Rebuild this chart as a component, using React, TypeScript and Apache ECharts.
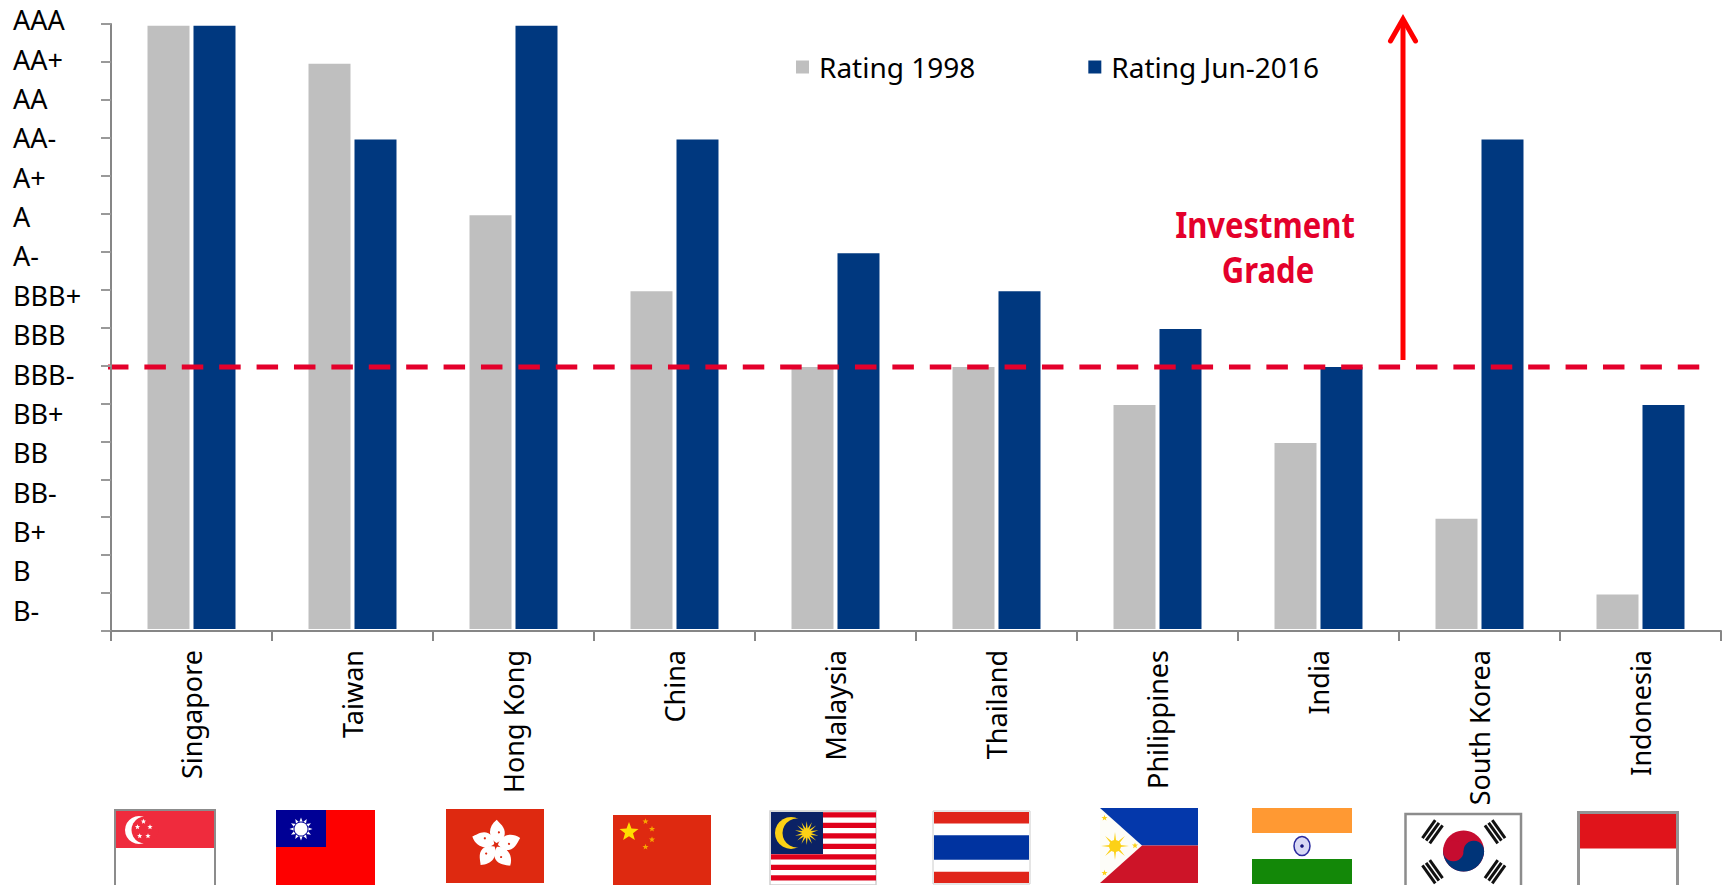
import React, { useEffect, useRef } from "react";
import * as echarts from "echarts";

const countries = ["Singapore", "Taiwan", "Hong Kong", "China", "Malaysia", "Thailand", "Philippines", "India", "South Korea", "Indonesia"];
const ratingLabels = ["AAA", "AA+", "AA", "AA-", "A+", "A", "A-", "BBB+", "BBB", "BBB-", "BB+", "BB", "BB-", "B+", "B", "B-"];
const rating1998 = [16, 15, 11, 9, 7, 7, 6, 5, 3, 1];
const rating2016 = [16, 13, 16, 13, 10, 9, 8, 7, 13, 6];
const investmentGradeLevel = [7, 7];
const investmentGradeSpan = [-0.025, 9.865];

const FONT = "'Noto Sans', sans-serif";
const GREY = "#bfbfbf";
const NAVY = "#00387f";
const LINE_RED = "#e4002b";

echarts.graphic.registerShape(
  "hkPetal",
  echarts.graphic.extendPath("M0,-2 C-9,-6 -11,-17 -3,-25 C0,-22 7,-19 7,-12 C7,-7 3,-4 0,-2 Z", {})
);

type El = Record<string, any>;
const rect = (x: number, y: number, width: number, height: number, fill: string, stroke?: string, lineWidth = 0): El => ({
  type: "rect", shape: { x, y, width, height }, style: { fill, stroke, lineWidth }, silent: true,
});
const circle = (cx: number, cy: number, r: number, fill: string): El => ({
  type: "circle", shape: { cx, cy, r }, style: { fill }, silent: true,
});
const burst = (cx: number, cy: number, n: number, outer: number, inner: number, fill: string): El => {
  const points: number[][] = [];
  for (let i = 0; i < n * 2; i++) {
    const a = -Math.PI / 2 + (i * Math.PI) / n;
    const r = i % 2 ? inner : outer;
    points.push([cx + r * Math.cos(a), cy + r * Math.sin(a)]);
  }
  return { type: "polygon", shape: { points }, style: { fill }, silent: true };
};
const star = (cx: number, cy: number, r: number, fill: string) => burst(cx, cy, 5, r, r * 0.42, fill);

function singapore(): El[] {
  return [
    rect(115, 810, 100, 80, "#ffffff", "#8c8c8c", 2),
    rect(116, 811, 98, 37, "#ef2b3d"),
    circle(139, 830, 14, "#ffffff"),
    circle(145, 830, 13.5, "#ef2b3d"),
    star(143.5, 821.5, 2.8, "#fff"), star(137.5, 827, 2.8, "#fff"), star(150, 827, 2.8, "#fff"),
    star(139.7, 836, 2.8, "#fff"), star(148, 836, 2.8, "#fff"),
  ];
}
function taiwan(): El[] {
  return [
    rect(276, 810, 99, 75, "#fe0000"),
    rect(276, 810, 50, 37, "#000095"),
    burst(301, 829, 12, 11.5, 7, "#ffffff"),
    circle(301, 829, 7.5, "#000095"),
    circle(301, 829, 6.5, "#ffffff"),
  ];
}
function hongKong(): El[] {
  const petals: El[] = [];
  for (let i = 0; i < 5; i++) {
    petals.push({
      type: "group", x: 496, y: 845, rotation: (-i * 2 * Math.PI) / 5 - 0.15,
      children: [
        { type: "hkPetal", style: { fill: "#ffffff" }, silent: true },
        { type: "circle", shape: { cx: 1, cy: -13, r: 1.1 }, style: { fill: "#de2910" }, silent: true },
      ],
    });
  }
  return [rect(446, 809, 98, 74, "#de2910"), ...petals];
}
function china(): El[] {
  return [
    rect(613, 815, 98, 70, "#de2910"),
    star(629, 832, 10, "#ffde00"),
    star(645.5, 821.5, 3.2, "#f7a800"), star(652, 829, 3.2, "#f7a800"),
    star(652, 839.6, 3.2, "#f7a800"), star(645.5, 847, 3.2, "#f7a800"),
  ];
}
function malaysia(): El[] {
  const stripes: El[] = [];
  for (let i = 0; i < 7; i++) stripes.push(rect(771, 812.3 + i * 10.5, 105, 5.2, "#e0001b"));
  return [
    rect(770, 811, 106, 74, "#ffffff", "#cfcfcf", 1.5),
    ...stripes,
    rect(771, 812, 52, 42, "#0b2265"),
    circle(791, 833, 16, "#fcd116"),
    circle(797, 833, 14.5, "#0b2265"),
    burst(806.7, 833, 14, 12, 4.5, "#fcd116"),
  ];
}
function thailand(): El[] {
  return [
    rect(933, 811, 97, 73, "#ffffff", "#cccccc", 1),
    rect(934, 812, 95, 11.6, "#e0251a"),
    rect(934, 835.3, 95, 24.4, "#0033a0"),
    rect(934, 871.7, 95, 11.3, "#e0251a"),
  ];
}
function philippines(): El[] {
  return [
    rect(1100, 808, 98, 37.5, "#0438ab"),
    rect(1100, 845.5, 98, 37.5, "#cd1428"),
    { type: "polygon", shape: { points: [[1100, 808], [1142, 845.5], [1100, 883]] }, style: { fill: "#fdfdf8" }, silent: true },
    burst(1115, 846, 8, 14, 3.5, "#fcd116"),
    circle(1115, 846, 6, "#fcd116"),
    star(1104.5, 818, 3.2, "#fcd116"), star(1104.5, 873, 3.2, "#fcd116"), star(1135, 845.6, 3.2, "#fcd116"),
  ];
}
function india(): El[] {
  return [
    rect(1252, 808, 100, 25, "#ff9933"),
    rect(1252, 833, 100, 26, "#ffffff"),
    rect(1252, 859, 100, 25, "#138808"),
    { type: "ellipse", shape: { cx: 1302, cy: 846, rx: 8, ry: 9.5 }, style: { fill: "#d8d8f4", stroke: "#2a2a9e", lineWidth: 1.5 }, silent: true },
    circle(1302, 846, 1.8, "#14147a"),
  ];
}
function korea(): El[] {
  const cx = 1463.6, cy = 851;
  const trigram = (x: number, y: number, rotation: number): El => ({
    type: "group", x, y, rotation,
    children: [-6, -1.5, 3].map((b) => ({
      type: "rect", shape: { x: -11, y: b, width: 22, height: 3 }, style: { fill: "#111111" }, silent: true,
    })),
  });
  return [
    rect(1405.5, 814, 115.5, 80, "#ffffff", "#8c8c8c", 2.5),
    circle(cx, cy, 20.5, "#c60c30"),
    { type: "sector", shape: { cx, cy, r: 20.5, r0: 0, startAngle: 0, endAngle: Math.PI }, style: { fill: "#003478" }, silent: true },
    circle(cx - 10.2, cy, 10.3, "#c60c30"),
    circle(cx + 10.2, cy, 10.3, "#003478"),
    trigram(1432.5, 831.7, 0.95),
    trigram(1495, 831.7, -0.95),
    trigram(1432.5, 871.7, -0.95),
    trigram(1495, 871.7, 0.95),
  ];
}
function indonesia(): El[] {
  return [
    rect(1578.5, 812.5, 99, 80, "#ffffff", "#949494", 3),
    rect(1580, 814, 96, 34.5, "#e0141b"),
  ];
}

function annotations(): El[] {
  return [
    { type: "text", x: 1265, y: 224, scaleY: 1.14, style: { text: "Investment", fill: LINE_RED, font: `700 31px ${FONT}`, align: "center", verticalAlign: "middle" } },
    { type: "text", x: 1268, y: 269, scaleY: 1.14, style: { text: "Grade", fill: LINE_RED, font: `700 31px ${FONT}`, align: "center", verticalAlign: "middle" } },
    { type: "line", shape: { x1: 1403, y1: 360, x2: 1403, y2: 24 }, style: { stroke: "#ff0000", lineWidth: 5 }, silent: true },
    { type: "polyline", shape: { points: [[1390.5, 41], [1403, 19], [1415.5, 41]] }, style: { stroke: "#ff0000", lineWidth: 5, fill: "none", lineCap: "round", lineJoin: "miter" }, silent: true },
    { type: "rect", z: 10, shape: { x: 112, y: 629, width: 1609, height: 1 }, style: { fill: "#ffffff" }, silent: true },
  ];
}

export default function App() {
  const ref = useRef<HTMLDivElement>(null);
  useEffect(() => {
    document.body.style.margin = "0";
    const chart = echarts.init(ref.current!, undefined, { renderer: "svg" });
    chart.setOption({
      animation: false,
      backgroundColor: "#ffffff",
      grid: [
        { left: 111, top: 24, width: 1610, height: 607 },
        { left: 100, top: 0, width: 10, height: 630 },
      ],
      legend: {
        left: 791, top: 48, itemWidth: 13, itemHeight: 13, itemGap: 113, icon: "rect",
        data: ["Rating 1998", "Rating Jun-2016"],
        textStyle: { fontFamily: FONT, fontSize: 28, color: "#000", padding: [0, 0, 0, 5] },
      },
      xAxis: [
        {
          type: "category", gridIndex: 0, data: countries, z: 11,
          axisLine: { lineStyle: { color: "#868686", width: 2 } },
          axisTick: { show: true, length: 10, alignWithLabel: false, lineStyle: { color: "#868686", width: 2 } },
          axisLabel: { interval: 0, rotate: 90, margin: 19, fontFamily: FONT, fontSize: 27, color: "#000" },
        },
        { type: "value", gridIndex: 1, show: false, min: 0, max: 1 },
        { type: "value", gridIndex: 0, show: false, min: 0, max: 10 },
      ],
      yAxis: [
        {
          type: "value", gridIndex: 0, min: 0, max: 16, interval: 1, z: 11,
          axisLine: { show: true, onZero: false, lineStyle: { color: "#868686", width: 2 } },
          axisTick: { show: true, length: 10, lineStyle: { color: "#999999", width: 2 } },
          axisLabel: { show: false }, splitLine: { show: false },
        },
        { type: "value", gridIndex: 0, show: false, min: 0.04, max: 16.045 },
        {
          type: "category", gridIndex: 1, inverse: true, data: ratingLabels,
          axisLine: { show: false }, axisTick: { show: false }, splitLine: { show: false },
          axisLabel: { interval: 0, align: "left", margin: 87, fontFamily: FONT, fontSize: 27, color: "#000" },
        },
      ],
      series: [
        { type: "bar", name: "Rating 1998", xAxisIndex: 0, yAxisIndex: 1, data: rating1998, barWidth: 42, barGap: "9.5%", itemStyle: { color: GREY } },
        { type: "bar", name: "Rating Jun-2016", xAxisIndex: 0, yAxisIndex: 1, data: rating2016, barWidth: 42, barGap: "9.5%", itemStyle: { color: NAVY } },
        {
          type: "line", name: "Investment grade", xAxisIndex: 2, yAxisIndex: 1, symbol: "none", clip: false, z: 5, silent: true,
          data: investmentGradeSpan.map((x, i) => [x, investmentGradeLevel[i]]),
          lineStyle: { color: LINE_RED, width: 5, type: [21.5, 15.9] },
        },
      ],
      graphic: [
        ...annotations(), ...singapore(), ...taiwan(), ...hongKong(), ...china(), ...malaysia(),
        ...thailand(), ...philippines(), ...india(), ...korea(), ...indonesia(),
      ],
    });
    return () => chart.dispose();
  }, []);
  return <div ref={ref} style={{ position: "fixed", left: 0, top: 0, width: 1723, height: 885, overflow: "hidden" }} />;
}
